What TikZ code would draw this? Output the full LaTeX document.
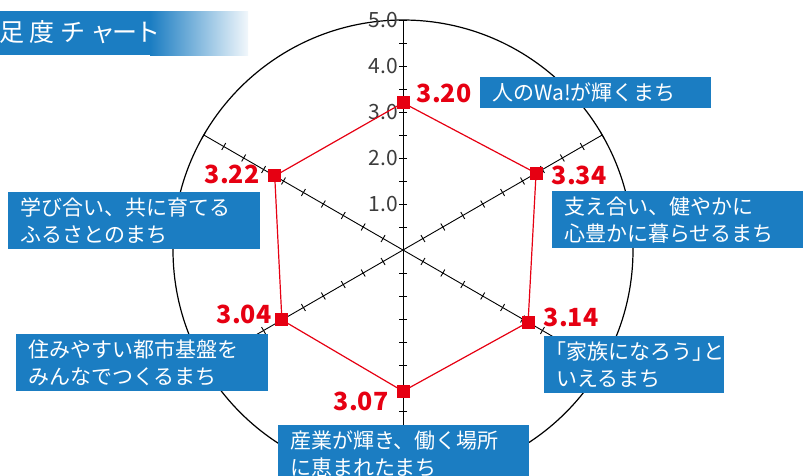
\documentclass[tikz,border=0pt]{standalone}
\usepackage{fontspec}
\setmainfont{Noto Sans CJK JP}
\newfontfamily\jp{Noto Sans CJK JP}
\newfontfamily\jphalt[RawFeature=+halt]{Noto Sans CJK JP}
\usetikzlibrary{calc}
\definecolor{boxblue}{RGB}{27,125,194}
\definecolor{datared}{RGB}{230,0,18}
\definecolor{axgray}{RGB}{60,60,60}
\begin{document}
\begin{tikzpicture}[x=1pt,y=1pt,
  boxlabel/.style={fill=boxblue,text=white,font=\jp\fontsize{21}{27}\selectfont,inner xsep=12pt,inner ysep=0pt,align=left,anchor=north west,minimum height=57pt},
  vallabel/.style={text=datared,font=\jp\bfseries\fontsize{25}{25}\selectfont,inner sep=0pt},
  scalelabel/.style={text=axgray,font=\jp\fontsize{21}{21}\selectfont,inner sep=0pt,anchor=east},
  datapt/.style={fill=datared,minimum size=13pt,inner sep=0pt},
  axisline/.style={black,line width=0.9pt}]
\useasboundingbox (0,0) rectangle (811,-475);
\begin{scope}
\clip (0,0) rectangle (811,-475);
% title band
\fill[boxblue] (0,-11) rectangle (151,-55);
\shade[left color=boxblue,right color=boxblue!6] (150,-11) rectangle (248,-55);
\node[anchor=west,text=white,font=\jp\fontsize{25}{25}\selectfont,inner sep=0pt] (title) at (-1,-32) {足\hspace{5pt}度\hspace{6pt}チ\hspace{5pt}ャ\hspace{-3pt}ー\hspace{-2pt}ト};
% chart
\coordinate (c) at (403,-250);
\draw[line width=1.2pt] (c) circle[radius=230pt];
\foreach \a in {90,30,-30,-90,-150,150}{
  \draw[axisline] (c) -- ($(c)+(\a:230)$);
  \foreach \k in {1,...,10}{
    \draw[axisline] ($(c)+(\a:{23*\k})+({\a+90}:4)$) -- ($(c)+(\a:{23*\k})+({\a-90}:4)$);
  }
}
\foreach \v in {1,...,5}{
  \node[scalelabel] (s\v) at ($(c)+(-5,{46*\v})$) {\v.0};
}
% data
\foreach \n/\a/\v in {a/90/3.20,b/30/3.34,cc/-30/3.14,d/-90/3.07,e/-150/3.04,f/150/3.22}{
  \node[datapt] (q\n) at ($(c)+(\a:{46*\v})$) {};
}
\draw[datared,line width=1.2pt] (qa.center) -- (qb.center) -- (qcc.center) -- (qd.center) -- (qe.center) -- (qf.center) -- cycle;
\foreach \n in {a,b,cc,d,e,f}{
  \node[datapt] at (q\n) {};
}
\node[vallabel] (la) at (444,-93) {3.20};
\node[vallabel] (lb) at (579,-175) {3.34};
\node[vallabel] (lc) at (571,-317) {3.14};
\node[vallabel] (ld) at (361,-401) {3.07};
\node[vallabel] (le) at (244,-314) {3.04};
\node[vallabel] (lf) at (232,-174) {3.22};
% labels
\node[boxlabel,text width=207pt,minimum height=31pt] (ba) at (480,-77) {人のWa!が輝くまち};
\node[boxlabel,text width=227pt] (bb) at (552,-191) {支え合い、健やかに\\心豊かに暮らせるまち};
\node[boxlabel,text width=156pt] (bc) at (544,-336) {{\jphalt 「}家族になろう{\jphalt 」}と\\いえるまち};
\node[boxlabel,text width=227pt] (bd) at (278,-425) {産業が輝き、働く場所\\に恵まれたまち};
\node[boxlabel,text width=228pt] (be) at (16,-334) {住みやすい都市基盤を\\みんなでつくるまち};
\node[boxlabel,text width=228pt] (bf) at (8,-192) {学び合い、共に育てる\\ふるさとのまち};
\end{scope}
\end{tikzpicture}
\end{document}
